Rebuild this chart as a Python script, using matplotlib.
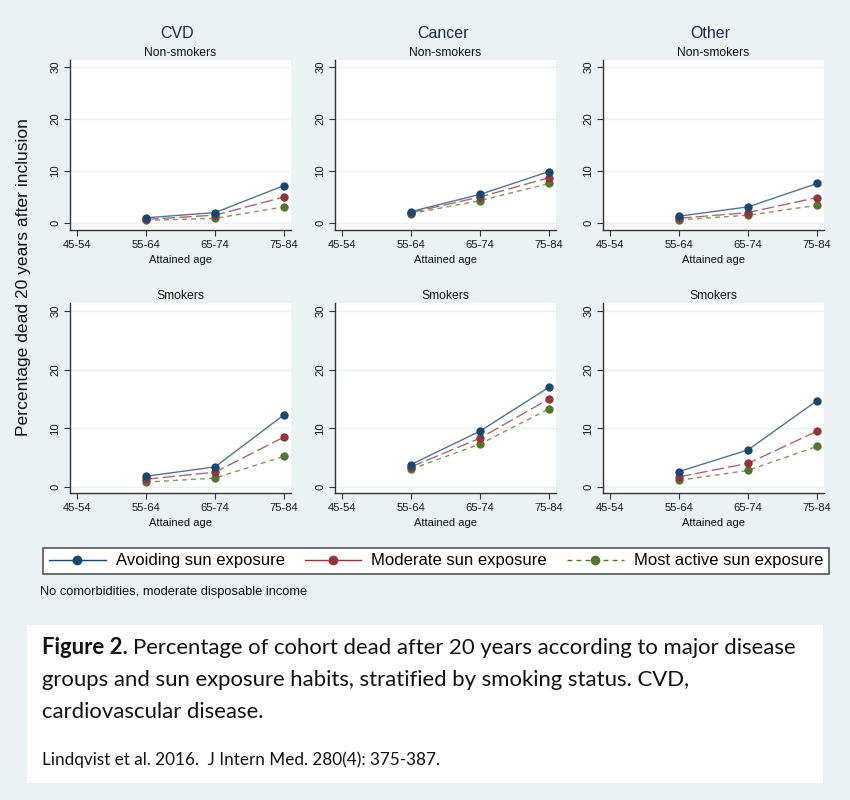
import matplotlib
matplotlib.use("Agg")
import matplotlib.pyplot as plt
from matplotlib.lines import Line2D
from matplotlib.patches import Rectangle
from matplotlib.colors import to_rgb

plt.rcParams['font.family'] = ['Liberation Sans', 'DejaVu Sans']

# ---------------- data ----------------
age_groups = ["45-54", "55-64", "65-74", "75-84"]
diseases = ["CVD", "Cancer", "Other"]
smoking = ["Non-smokers", "Smokers"]
series_names = ["Avoiding sun exposure", "Moderate sun exposure", "Most active sun exposure"]

# values for 55-64, 65-74, 75-84 (no data for 45-54)
cvd_non_avoid = [1.0, 2.0, 7.2]
cvd_non_moder = [0.7, 1.5, 5.0]
cvd_non_active = [0.5, 0.9, 3.1]
cancer_non_avoid = [2.2, 5.5, 9.9]
cancer_non_moder = [2.0, 5.0, 8.7]
cancer_non_active = [1.8, 4.3, 7.6]
other_non_avoid = [1.3, 3.1, 7.6]
other_non_moder = [0.9, 2.0, 4.9]
other_non_active = [0.6, 1.5, 3.4]

cvd_smk_avoid = [1.8, 3.4, 12.3]
cvd_smk_moder = [1.3, 2.5, 8.5]
cvd_smk_active = [0.8, 1.5, 5.2]
cancer_smk_avoid = [3.8, 9.5, 17.0]
cancer_smk_moder = [3.4, 8.3, 15.0]
cancer_smk_active = [3.0, 7.3, 13.3]
other_smk_avoid = [2.6, 6.3, 14.7]
other_smk_moder = [1.7, 4.0, 9.5]
other_smk_active = [1.1, 2.8, 6.9]

y_ticks = [0, 10, 20, 30]

panels = {
    (0, 0): (cvd_non_avoid, cvd_non_moder, cvd_non_active),
    (0, 1): (cancer_non_avoid, cancer_non_moder, cancer_non_active),
    (0, 2): (other_non_avoid, other_non_moder, other_non_active),
    (1, 0): (cvd_smk_avoid, cvd_smk_moder, cvd_smk_active),
    (1, 1): (cancer_smk_avoid, cancer_smk_moder, cancer_smk_active),
    (1, 2): (other_smk_avoid, other_smk_moder, other_smk_active),
}

# ---------------- style ----------------
BG = "#eaf2f3"
colors = ["#1a476f", "#90353b", "#55752f"]
dashes = [None, (9, 3), (3.5, 3)]
legend_dashes = [None, None, (3.5, 3)]
W, H = 850, 800

def lighten(c, f):
    r, g, b = to_rgb(c)
    return (r + (1 - r) * f, g + (1 - g) * f, b + (1 - b) * f)

line_colors = [lighten(c, 0.25) for c in colors]

fig = plt.figure(figsize=(W / 100, H / 100), dpi=100)
fig.patch.set_facecolor(BG)

col_left = [70, 335, 603]
col_width = 221
row_top = [60, 303]
row_bottom = [230, 493]
ylims = [(-1.35, 31.35), (-1.05, 31.35)]

def fx(px):
    return px / W

def fy(py):
    return 1 - py / H

x_pos = list(range(len(age_groups)))

for (r, c), vals in panels.items():
    ax = fig.add_axes([fx(col_left[c]), fy(row_bottom[r]), col_width / W,
                       (row_bottom[r] - row_top[r]) / H])
    ax.set_facecolor("white")
    ax.set_xlim(-0.1, 3.1)
    ax.set_ylim(*ylims[r])
    for yt in y_ticks:
        ax.axhline(yt, color=BG, lw=1.0, zorder=0)
    for k, v in enumerate(vals):
        ln = Line2D(x_pos[1:], v, color=line_colors[k], lw=1.0, zorder=3 + (2 - k))
        if dashes[k] is not None:
            ln.set_dashes(dashes[k])
        ax.add_line(ln)
        ax.plot(x_pos[1:], v, linestyle='none', marker='o', ms=6, color=colors[k],
                markeredgewidth=0, zorder=6 + (2 - k))
    ax.set_xticks(x_pos)
    ax.set_xticklabels(age_groups, fontsize=8.1, color="#1a1a1a")
    ax.set_yticks(y_ticks)
    ax.set_yticklabels([str(t) for t in y_ticks], fontsize=8.1, color="#1a1a1a",
                       rotation=90, va='center')
    ax.tick_params(axis='both', direction='out', length=4, width=0.8, color="#333333", pad=3)
    for s in ["top", "right"]:
        ax.spines[s].set_visible(False)
    for s in ["left", "bottom"]:
        ax.spines[s].set_color("#333333")
        ax.spines[s].set_linewidth(1.0)
    ax.set_xlabel("Attained age", fontsize=8, color="#111111", labelpad=4)
    ax.set_title(smoking[r], fontsize=8.7, color="#111111", pad=3)
    if r == 0:
        fig.text(fx(col_left[c] + col_width / 2 - 3), fy(33), diseases[c], fontsize=11.5,
                 color="#1e2a4f", ha='center', va='center')

# y label
fig.text(fx(24), fy(277), "Percentage dead 20 years after inclusion", rotation=90,
         fontsize=12.6, color="#111111", ha='center', va='center')

# legend
handles = []
for k in range(3):
    h = Line2D([], [], color=colors[k], lw=1.0, marker='o', ms=7, markeredgewidth=0)
    if legend_dashes[k] is not None:
        h.set_dashes(legend_dashes[k])
    handles.append(h)
leg = fig.legend(handles, series_names, loc='center', bbox_to_anchor=(fx(436), fy(561)),
                 ncol=3, fontsize=12, frameon=True, fancybox=False, handlelength=3.4,
                 handletextpad=0.6, columnspacing=1.2, borderpad=0.35, numpoints=1)
fr = leg.get_frame()
fr.set_edgecolor("#555555")
fr.set_linewidth(1.2)
fr.set_facecolor("white")
fr.set_alpha(1)

fig.text(fx(40), fy(592), "No comorbidities, moderate disposable income", fontsize=9.3,
         color="#111111", ha='left', va='center')

# caption box
fig.patches.append(Rectangle((fx(27), fy(783)), 796 / W, 158 / H, transform=fig.transFigure,
                             facecolor="white", edgecolor="none", zorder=0))

cap_font = ['Lato', 'DejaVu Sans']
cap_size = 15.9
renderer = fig.canvas.get_renderer()
t1 = fig.text(fx(42), fy(648), "Figure 2.", fontsize=cap_size, fontweight='bold',
              family=cap_font, color="#111111", ha='left', va='center')
bb = t1.get_window_extent(renderer)
fig.text((bb.x1 + 5) / W, fy(648),
         "Percentage of cohort dead after 20 years according to major disease",
         fontsize=cap_size, family=cap_font, color="#111111", ha='left', va='center')
fig.text(fx(42), fy(680), "groups and sun exposure habits, stratified by smoking status. CVD,",
         fontsize=cap_size, family=cap_font, color="#111111", ha='left', va='center')
fig.text(fx(42), fy(712), "cardiovascular disease.",
         fontsize=cap_size, family=cap_font, color="#111111", ha='left', va='center')
fig.text(fx(42), fy(760), "Lindqvist et al. 2016.  J Intern Med. 280(4): 375-387.",
         fontsize=12.3, family=cap_font, color="#111111", ha='left', va='center')

fig.savefig("out.png", dpi=100, facecolor=BG)
